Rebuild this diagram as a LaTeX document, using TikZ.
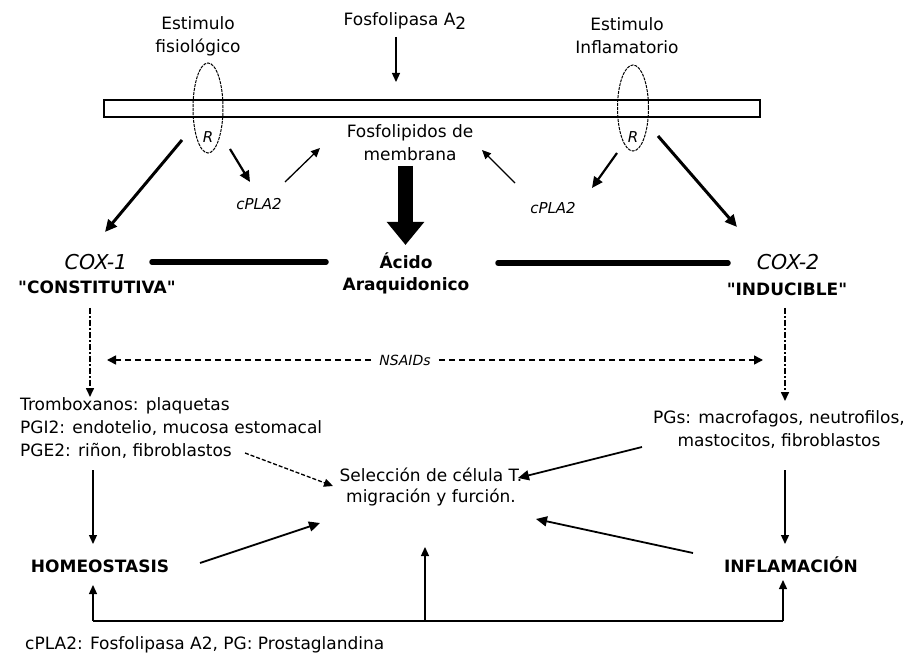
\documentclass[tikz,border=0pt]{standalone}
\usepackage{fontspec}
\setmainfont{DejaVu Sans}[Ligatures=TeXOff]
\usetikzlibrary{arrows.meta,shapes.geometric}
\begin{document}
\begin{tikzpicture}[x=1pt,y=-1pt,
  txt/.style={font=\fontsize{17}{23}\selectfont, inner sep=0pt, align=center},
  boldtxt/.style={font=\fontsize{17}{22}\selectfont\bfseries, inner sep=0pt, align=center},
  coxtxt/.style={font=\fontsize{20.5}{24}\selectfont\itshape, inner sep=0pt},
  smalltxt/.style={font=\fontsize{15}{17}\selectfont\itshape, inner sep=0pt},
  arr/.style={-{Triangle[length=9pt,width=8pt]}, line width=1.3pt},
  thickarr/.style={-{Triangle[length=12pt,width=11pt]}, line width=3pt},
  medarr/.style={-{Triangle[length=11pt,width=10pt]}, line width=2.2pt},
  bar/.style={line width=5.5pt, line cap=round},
  dashdot/.style={line width=1.6pt, dash pattern=on 6pt off 2pt on 2pt off 2pt},
  dashline/.style={line width=1.6pt, dash pattern=on 6pt off 4pt},
  receptor/.style={draw, ellipse, line width=1pt, dash pattern=on 3pt off 1pt, inner sep=0pt}
]
\useasboundingbox[fill=white] (0,0) rectangle (911,663);

% membrane and receptors
\node[draw, line width=1.3pt, minimum width=656pt, minimum height=17pt, inner sep=0pt] (memb) at (432,108.5) {};
\node[receptor, minimum width=30pt, minimum height=90pt] (rec1) at (208,108) {};
\node[receptor, minimum width=31pt, minimum height=86pt] (rec2) at (633,108) {};
\node[smalltxt] (r1) at (208,137) {R};
\node[smalltxt] (r2) at (633,137) {R};

% labels
\node[txt] (est1) at (198,36) {Estimulo\\fisiológico};
\node[txt] (est2) at (627,36) {Estimulo\\Inflamatorio};
\node[txt, anchor=base] (fpa) at (405,26) {Fosfolipasa A\raisebox{-4pt}{2}};
\node[txt] (fosfo) at (410,143) {Fosfolipidos de\\membrana};
\node[boldtxt] (acido) at (406,273) {Ácido\\Araquidonico};
\node[coxtxt] (cox1) at (96,262) {COX-1};
\node[boldtxt] (const) at (97,287) {"CONSTITUTIVA"};
\node[coxtxt] (cox2) at (788,262) {COX-2};
\node[boldtxt] (induc) at (787,289) {"INDUCIBLE"};
\node[smalltxt] (cplal) at (259,204) {cPLA2};
\node[smalltxt] (cplar) at (553,208) {cPLA2};
\node[smalltxt, font=\fontsize{14}{16}\selectfont\itshape] (nsaid) at (405,360) {NSAIDs};
\node[txt, align=left, anchor=west] (tromb) at (20,428) {Tromboxanos: plaquetas\\PGI2: endotelio, mucosa estomacal\\PGE2: riñon, fibroblastos};
\node[txt] (pgs) at (779,430) {PGs: macrofagos, neutrofilos,\\mastocitos, fibroblastos};
\node[txt, font=\fontsize{17}{21}\selectfont] (selec) at (431,487) {Selección de célula T.\\migración y furción.};
\node[boldtxt] (homeo) at (100,566) {HOMEOSTASIS};
\node[boldtxt] (infl) at (791,565) {INFLAMACIÓN};
\node[txt, anchor=west] (foot) at (25,645) {cPLA2: Fosfolipasa A2, PG: Prostaglandina};

% connector end points
\coordinate (fpaS) at (396,37);   \coordinate (membT) at (396,82);
\coordinate (rec1a) at (182,140); \coordinate (cox1N) at (105,232);
\coordinate (rec1b) at (230,149); \coordinate (cplalN) at (250,182);
\coordinate (cplalE) at (285,182); \coordinate (fosfoW) at (320,148);
\coordinate (cplarN) at (515,183); \coordinate (fosfoE) at (482,150);
\coordinate (rec2b) at (617,153); \coordinate (cplarT) at (592,188);
\coordinate (rec2a) at (658,136); \coordinate (cox2N) at (737,227);
\coordinate (fosfoS) at (405.5,166); \coordinate (acidoN) at (405.5,245);
\coordinate (barL1) at (152,262); \coordinate (barL2) at (326,262);
\coordinate (barR1) at (498,263); \coordinate (barR2) at (728,263);
\coordinate (constS) at (90,308); \coordinate (trombN) at (90,397);
\coordinate (inducS) at (785,308); \coordinate (pgsN) at (785,401);
\coordinate (nsL) at (107,360); \coordinate (nsR) at (763,360);
\coordinate (trombS) at (93,470); \coordinate (homeoN) at (93,544);
\coordinate (pgsS) at (785,470); \coordinate (inflN) at (785,544);
\coordinate (homeoS) at (93,585); \coordinate (inflS) at (783,580);
\coordinate (botL) at (93,621); \coordinate (botR) at (783,621);
\coordinate (botM) at (425,621); \coordinate (selecS) at (425,547);
\coordinate (pge) at (245,453); \coordinate (selecW) at (333,486);
\coordinate (homeoE) at (200,563); \coordinate (selecSW) at (320,523);
\coordinate (pgsW) at (642,447); \coordinate (selecE) at (518,478);
\coordinate (inflW) at (693,553); \coordinate (selecSE) at (536,519);

% upper pathway
\draw[arr] (fpaS) -- (membT);
\draw[thickarr] (rec1a) -- (cox1N);
\draw[medarr] (rec1b) -- (cplalN);
\draw[arr] (cplalE) -- (fosfoW);
\draw[arr] (cplarN) -- (fosfoE);
\draw[medarr] (rec2b) -- (cplarT);
\draw[thickarr] (rec2a) -- (cox2N);
\draw[line width=15pt, -{Triangle[length=23pt,width=36pt]}] (fosfoS) -- (acidoN);
\draw[bar] (barL1) -- (barL2);
\draw[bar] (barR1) -- (barR2);

% COX products and inhibitors
\draw[dashdot, -{Triangle[length=9pt,width=8pt]}] (constS) -- (trombN);
\draw[dashdot, -{Triangle[length=9pt,width=8pt]}] (inducS) -- (pgsN);
\draw[dashline, -{Triangle[length=9pt,width=9pt]}] (nsaid.west) ++(-8,0) -- (nsL);
\draw[dashline, -{Triangle[length=9pt,width=9pt]}] (nsaid.east) ++(8,0) -- (nsR);

% lower pathway
\draw[arr] (trombS) -- (homeoN);
\draw[arr] (pgsS) -- (inflN);
\draw[line width=1.3pt] (botL) -- (botR);
\draw[arr] (botL) -- (homeoS);
\draw[arr] (botR) -- (inflS);
\draw[arr] (botM) -- (selecS);
\draw[line width=1.3pt, dash pattern=on 4pt off 2pt, -{Triangle[length=9pt,width=8pt]}] (pge) -- (selecW);
\draw[medarr, line width=1.8pt] (homeoE) -- (selecSW);
\draw[medarr, line width=1.8pt] (pgsW) -- (selecE);
\draw[medarr, line width=1.8pt] (inflW) -- (selecSE);
\end{tikzpicture}
\end{document}
